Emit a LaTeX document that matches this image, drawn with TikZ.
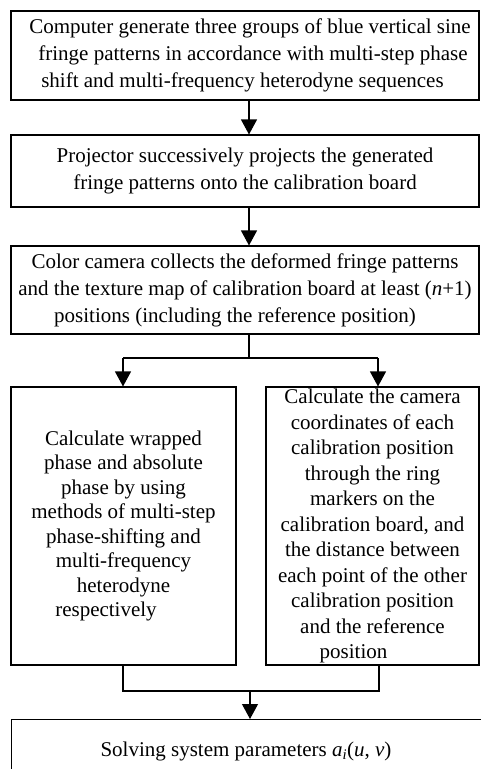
\documentclass[tikz,border=0pt]{standalone}
\usepackage{fontspec}
\setmainfont{Liberation Serif}
\usetikzlibrary{arrows.meta,calc}
\begin{document}
\begin{tikzpicture}[x=1pt,y=-1pt,
  box/.style={draw, line width=1.1pt, inner sep=0pt, align=center, font=\fontsize{21}{27}\selectfont},
  arr/.style={line width=1.1pt, -{Triangle[length=15pt,width=16pt]}},
  ln/.style={line width=1.1pt}]
\useasboundingbox (0,0) rectangle (480,769);
\node[box, minimum width=468pt, minimum height=89pt] (b1) at (245,55.5)
  {\hspace*{10pt}Computer generate three groups of blue vertical sine\\
   \hspace*{16pt}fringe patterns in accordance with multi-step phase\\
   shift and multi-frequency heterodyne sequences\hspace*{5pt}};
\node[box, minimum width=468pt, minimum height=72pt] (b2) at (245,171)
  {Projector successively projects the generated\\
   fringe patterns onto the calibration board};
\node[box, minimum width=468pt, minimum height=88pt] (b3) at (245,290)
  {Color camera collects the deformed fringe patterns\\
   and the texture map of calibration board at least (\textit{n}+1)\\
   positions (including the reference position)\hspace*{20pt}};
\node[box, minimum width=225pt, minimum height=278pt, font=\fontsize{21}{24.5}\selectfont] (b4) at (123.5,526)
  {Calculate wrapped\\
   phase and absolute\\
   phase by using\\
   methods of multi-step\\
   phase-shifting and\\
   multi-frequency\\
   heterodyne\\
   respectively\hspace*{35pt}};
\node[box, minimum width=213pt, minimum height=278pt, font=\fontsize{21}{25.5}\selectfont] (b5) at (372.5,526)
  {Calculate the camera\\
   coordinates of each\\
   calibration position\\
   through the ring\\
   markers on the\\
   calibration board, and\\
   the distance between\\
   each point of the other\\
   calibration position\\
   and the reference\\
   position\hspace*{38pt}};
\node[box, minimum width=472pt, minimum height=66pt, anchor=north west] (b6) at (11,719) {};
\node[font=\fontsize{21}{25}\selectfont, inner sep=0pt] (t6) at (246,751)
  {Solving system parameters \textit{a}\textsubscript{\textit{i}}(\textit{u}, \textit{v})};
\coordinate (ax) at (249,0);
\coordinate (split) at (249,358);
\coordinate (sl) at (123,358);
\coordinate (sr) at (378,358);
\coordinate (jl) at (123,691);
\coordinate (jr) at (379,691);
\coordinate (jm) at (250,691);
\draw[arr] (b1.south -| ax) -- (b2.north -| ax);
\draw[arr] (b2.south -| ax) -- (b3.north -| ax);
\draw[ln] (b3.south -| ax) -- (split);
\draw[ln] (sl) -- (sr);
\draw[arr] (sl) -- (b4.north -| sl);
\draw[arr] (sr) -- (b5.north -| sr);
\draw[ln] (b4.south -| jl) -- (jl) -- (jr) -- (b5.south -| jr);
\draw[arr] (jm) -- (b6.north -| jm);
\end{tikzpicture}
\end{document}
